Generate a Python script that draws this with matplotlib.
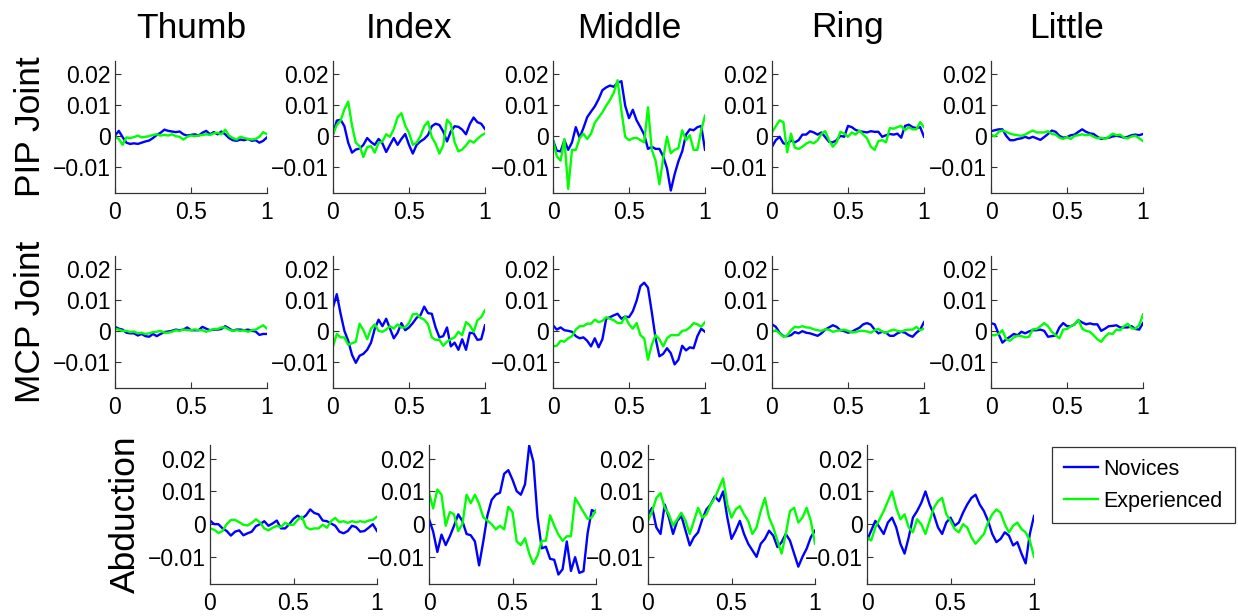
import numpy as np
import matplotlib

matplotlib.use("Agg")
import matplotlib.pyplot as plt

plt.rcParams["font.family"] = ["Liberation Sans", "DejaVu Sans"]

# ============================================================
# DATA  (values in units of 1e-3, sampled at t = 0, 0.025, ..., 1)
# ============================================================

FINGERS = ["Thumb", "Index", "Middle", "Ring", "Little"]
ROW_LABELS = ["PIP Joint", "MCP Joint", "Abduction"]
SERIES_LABELS = ["Novices", "Experienced"]

SCALE = 1e-3
T = np.linspace(0, 1, 41)

X_TICKS = [0, 0.5, 1]
X_TICK_LABELS = ["0", "0.5", "1"]
Y_TICKS = [-0.01, 0, 0.01, 0.02]
Y_TICK_LABELS = ["\u22120.01", "0", "0.01", "0.02"]

# --- PIP joint ---
PIP_THUMB_NOV = [0.2, 1.7, -0.3, -2.1, -2.5, -2.3, -2.5, -2.1, -1.7, -1.4, -0.6, 0.4, 1.1, 2.1, 1.7, 1.5, 1.3, 1.5, 0.6, 0.2, 0.4,
                 0.6, 0.2, 1.1, 1.7, 0.6, 1.3, 0.6, 1.5, 0.6, -0.6, -1.3, -1.5, -1.1, -1.3, -0.9, -1.5, -1.3, -2.1, -1.5, -0.4]
PIP_THUMB_EXP = [-0.3, -0.9, -2.8, -0.4, -0.6, -0.3, 0.2, -0.4, -0.2, 0.0, 0.4, 0.6, 0.2, 0.4, 0.2, 0.6, 0.0, -0.2, -1.1, -0.2, 0.2,
                 0.0, 0.2, 0.4, 0.6, 0.4, 0.9, 1.1, 0.6, 2.1, 0.2, -0.6, -1.1, -0.2, -0.6, -0.9, -1.1, -0.9, -0.2, 1.3, 0.6]
PIP_INDEX_NOV = [0.6, 5.0, 5.3, 3.2, -2.1, -5.3, -4.3, -4.0, -2.8, -0.6, -1.9, -2.8, -0.9, -2.3, -5.1, -2.8, -0.6, -2.8, -0.9, 0.7, -2.8,
                 -5.6, -2.8, -1.7, -0.9, 0.4, 3.2, 4.0, 3.6, 1.5, -1.7, 1.5, 3.2, 3.0, 2.1, 0.6, 3.9, 6.0, 4.5, 4.0, 2.3]
PIP_INDEX_EXP = [0.7, 3.6, 5.0, 8.7, 11.1, 3.4, -2.1, -3.2, -6.7, -3.5, -3.2, -5.3, -2.1, -1.7, 0.6, -0.2, 2.3, 6.1, 7.4, 3.4, 1.1,
                 -2.8, -2.1, 0.0, 3.2, 4.7, -0.3, -2.4, -5.6, -3.0, 5.3, 3.9, -1.9, -4.9, -4.3, -3.0, -1.4, -2.1, -0.9, 0.2, 0.9]
PIP_MIDDLE_NOV = [-1.3, -4.7, -4.9, -1.3, -4.4, -2.0, 2.9, -0.5, 2.6, 6.1, 7.9, 9.6, 11.9, 14.8, 15.7, 16.3, 15.9, 17.2, 17.7, 9.8, 5.8,
                  8.5, 5.1, 2.9, 0.5, -4.1, -3.4, -4.1, -4.1, -6.5, -10.4, -17.5, -12.3, -8.1, -4.9, 0.5, 2.2, 1.9, 2.9, 3.3, -4.4]
PIP_MIDDLE_EXP = [-1.3, -6.5, -7.9, -0.9, -17.0, -4.4, -4.4, -0.7, 0.8, -0.9, 0.8, 4.3, 6.0, 7.7, 9.8, 11.7, 14.0, 18.0, 8.2, -0.2, -1.3,
                  -0.7, -0.5, -1.3, -2.0, 9.3, -4.4, -7.9, -15.5, -7.1, -0.2, -5.5, -4.4, -3.9, 1.9, -1.3, 0.3, -4.4, -4.4, 1.9, 6.6]
PIP_RING_NOV = [-3.4, -1.3, -0.2, -2.3, -2.6, -1.3, -2.0, -1.3, 0.5, 0.5, 1.6, 1.2, 0.5, 1.2, -0.3, -1.8, -2.0, -1.3, 0.1, -0.2, 3.3,
                2.9, 2.0, 1.6, 1.4, 1.2, 1.6, 1.4, 1.4, -0.2, 0.3, 0.7, 0.5, 0.8, -0.5, 3.3, 3.7, 2.9, 2.6, 2.9, -0.2]
PIP_RING_EXP = [1.2, 3.2, 5.1, 4.5, -5.2, 0.8, -3.7, -4.1, -3.4, -2.4, -1.8, -2.3, -1.3, 0.7, 1.6, -1.3, -3.4, -2.0, 1.4, 0.8, -0.2,
                1.2, 0.5, 1.8, 0.5, -0.7, -3.4, -4.4, -1.6, -1.3, -2.0, 2.6, 2.4, 2.9, 3.3, 1.9, 2.9, 2.2, 2.2, 4.5, 2.9]
PIP_LITTLE_NOV = [1.6, 1.9, 2.2, 2.2, 0.1, -1.3, -1.3, -0.9, -0.7, -0.2, -0.7, -0.2, -0.7, -1.2, -0.3, 0.7, 1.8, 1.4, 0.1, -0.5, -0.3,
                  0.3, 0.5, 1.4, 2.2, 1.4, 0.9, 0.7, -0.2, -0.9, -0.7, -0.5, -0.1, 0.1, -0.1, -0.5, -0.2, 0.3, 0.5, 0.3, 0.7]
PIP_LITTLE_EXP = [0.5, -0.1, 1.4, 1.8, 1.4, 0.8, 0.5, 0.3, 0.1, 0.5, 1.2, 1.8, 1.2, 1.2, 1.2, 1.6, 0.7, 0.5, -0.5, -0.9, -0.3,
                  -0.9, 0.1, 0.3, 0.6, 0.3, 0.5, -0.2, -0.7, -0.5, -0.9, -0.2, 0.8, 0.3, 0.5, -0.5, -0.7, -0.1, 0.1, -0.7, -1.6]

# --- MCP joint ---
MCP_THUMB_NOV = [1.4, 0.8, 0.5, -0.5, -0.7, -0.7, -1.4, -0.9, -1.6, -1.8, -0.9, -1.6, -0.9, -0.3, -0.1, 0.1, 0.5, 0.3, 0.5, 1.2, 0.3,
                 0.3, 0.3, 1.4, 0.8, 0.3, 0.5, 0.5, 0.7, 1.6, 0.9, 0.1, 0.5, 0.5, 0.3, 0.5, 0.1, -0.1, -1.2, -0.9, -0.9]
MCP_THUMB_EXP = [0.8, 0.5, 0.1, 0.1, -0.3, -0.1, -0.7, -0.5, -0.9, -0.7, -0.3, -0.2, 0.1, -0.5, -0.5, -0.2, 0.3, 0.1, 0.5, 0.3, 0.3,
                 0.6, 0.3, 0.3, -0.2, 0.3, 0.7, 0.7, 1.2, 1.2, 0.5, 0.1, 0.3, 0.1, 0.3, -0.2, 0.3, 0.5, 1.2, 1.9, 0.8]
MCP_INDEX_NOV = [7.7, 11.9, 5.6, 0.1, -3.1, -7.6, -10.2, -7.9, -7.3, -6.0, -3.7, 0.8, 3.7, 1.6, 4.0, 0.8, -2.3, -0.5, 2.6, 0.3, 1.2,
                 2.6, 4.3, 5.1, 7.9, 5.8, 5.6, 1.2, -2.0, -1.6, 1.2, -4.9, -3.7, -6.0, -2.6, -6.0, -0.5, -0.7, -2.8, -2.6, 1.9]
MCP_INDEX_EXP = [-4.9, -0.9, -2.0, -2.0, -4.4, -3.9, -3.4, 2.4, 0.3, -2.6, 0.8, 2.2, 0.1, -0.2, 0.5, 1.6, 0.8, 2.2, 1.2, 1.2, 2.6,
                 5.4, 5.6, 4.3, 3.7, 2.2, -2.0, -2.8, -2.8, -4.7, -3.4, -2.6, -2.0, -0.2, -1.3, 2.9, 1.9, -0.2, 3.5, 4.5, 6.8]
MCP_MIDDLE_NOV = [1.9, 0.5, 1.2, 0.3, 0.1, -0.2, -1.6, -2.3, -2.0, -3.1, -4.9, -2.3, -5.2, -2.6, 4.0, 4.5, 5.1, 5.6, 4.0, 4.7, 4.5,
                  6.4, 9.8, 14.5, 15.6, 14.0, 6.1, -2.3, -8.1, -7.3, -5.5, -7.1, -10.7, -9.2, -4.7, -6.2, -5.2, -5.5, -1.6, 0.8, -0.2]
MCP_MIDDLE_EXP = [-4.9, -4.7, -3.1, -3.4, -2.3, -1.6, 0.5, 1.6, 1.6, 2.4, 2.4, 3.7, 2.9, 3.3, 4.5, 4.0, 3.5, 2.6, 2.6, 4.7, 2.2,
                  0.8, 2.6, -1.3, -2.3, -9.2, -4.4, -1.3, -2.6, -4.9, -2.3, -1.3, -1.3, -1.3, 0.1, 0.3, 1.2, 2.6, 2.2, 1.4, 2.9]
MCP_RING_NOV = [2.2, 1.4, -0.5, -1.6, -1.6, -1.3, -0.3, -0.7, 0.0, -0.5, -0.7, -1.1, -1.5, -0.7, 0.5, 1.2, 1.9, 1.4, 0.3, 0.0, -0.5,
                -0.2, 0.5, 1.1, 2.2, 2.6, 2.1, 0.5, -0.7, -0.2, -0.5, -1.5, -1.5, -0.7, -0.2, -0.5, -1.3, -1.8, -0.5, 0.5, 2.9]
MCP_RING_EXP = [-0.2, 0.3, -0.7, -1.8, -1.4, 0.3, 1.4, 1.2, 1.6, 1.2, 1.1, 0.6, 0.3, 0.1, 0.6, 0.5, -0.2, 0.1, 0.3, 0.5, 0.1,
                -0.4, -0.3, 0.1, 0.1, -0.1, -0.5, 0.3, 0.7, -0.1, -0.5, 0.1, 0.5, 0.1, -0.2, 0.3, 0.5, 0.5, 1.4, 0.3, 0.8]
MCP_LITTLE_NOV = [2.6, 2.2, -0.9, -3.7, -2.6, -1.8, -0.9, -1.3, -0.2, -0.7, -0.1, 0.3, 0.3, 0.5, 0.1, -1.8, -1.6, -1.4, 1.2, 2.6, 1.6,
                  1.6, 2.2, 3.5, 2.8, 2.2, 2.5, 2.2, 2.2, 0.1, 0.8, 1.6, 1.7, 1.9, 1.2, 1.2, 1.2, 1.6, 0.7, 0.5, 2.6]
MCP_LITTLE_EXP = [-1.3, -1.3, -0.9, 0.3, -2.6, -3.1, -2.0, -1.5, -1.6, -2.0, -1.8, 0.6, 0.7, 1.6, 2.6, 1.6, -0.2, -1.3, -2.3, 0.5, 0.7,
                  1.6, 2.2, 3.7, 0.8, 0.1, -0.2, -1.3, -2.6, -3.4, -1.8, -0.7, -0.9, 0.5, 0.3, 1.6, 2.4, 0.9, 0.8, 1.9, 5.4]

# --- Abduction (no little finger) ---
ABD_THUMB_NOV = [1.1, 0.0, 0.0, -1.3, -2.1, -3.5, -2.3, -1.9, -3.4, -2.8, -2.3, -0.6, 0.0, 0.9, -0.5, 0.2, 1.1, -1.3, -1.3, 0.0, 1.6,
                 2.6, 1.7, 2.7, 4.5, 3.4, 3.0, 1.1, 0.9, 0.2, -0.5, -2.3, -2.8, -2.1, -0.5, -0.9, -2.3, -2.1, -1.1, 0.0, -2.1]
ABD_THUMB_EXP = [-1.3, -1.7, -2.7, -2.1, 0.0, 1.3, 1.3, 0.6, -0.2, -0.4, 0.4, 1.5, 0.5, -1.3, -1.9, -1.1, -0.5, -0.9, 0.4, -0.2, -0.2,
                 1.3, 2.3, -0.9, -1.6, -1.3, -1.3, -0.2, -1.1, 0.9, 1.9, 0.6, 0.9, 0.4, 0.9, 0.6, 0.9, 0.6, 1.1, 1.3, 2.3]
ABD_INDEX_NOV = [1.6, -2.3, -8.5, -3.2, -6.4, -3.7, -0.5, 3.0, 0.9, -3.0, -3.4, -5.3, -12.6, -5.3, 2.7, 7.4, 9.0, 9.6, 15.4, 16.5, 13.6,
                 10.1, 9.0, 12.2, 24.0, 19.1, 2.1, -7.4, -6.9, -10.6, -10.9, -15.4, -13.8, -5.3, -14.3, -10.1, -14.9, -14.4, -2.7, 4.3, 3.7]
ABD_INDEX_EXP = [9.6, 4.8, 10.6, 9.0, -0.5, 3.7, 3.0, -2.1, 0.0, 9.0, 6.4, 9.0, 6.2, 2.1, 1.1, 0.0, -1.6, -0.5, -1.6, 5.3, 3.7,
                 -5.3, -6.4, -4.3, -9.0, -12.2, -9.6, -5.1, -5.1, 2.7, -0.5, -3.2, -5.1, -3.7, -3.7, 8.0, 5.9, 3.7, 1.6, 2.1, 4.3]
ABD_MIDDLE_NOV = [3.0, 5.0, -1.0, -3.0, 6.0, 2.0, -3.0, 1.0, 2.5, -2.0, -6.5, -4.0, -2.5, 1.5, 4.5, 6.0, 8.5, 7.0, 10.0, 2.0, -4.5,
                  -2.0, 1.0, -3.0, -6.0, -8.0, -10.0, -6.0, -4.5, -2.0, -3.5, -7.0, -5.5, -3.0, -5.0, -9.0, -13.0, -10.0, -7.5, -4.0, -2.0]
ABD_MIDDLE_EXP = [1.0, 4.0, 8.0, 9.5, 5.0, 3.0, -0.5, 1.5, 3.5, 1.0, -3.0, 1.0, 5.0, 2.0, 3.0, 6.0, 8.0, 11.0, 14.0, 6.0, 2.0,
                  4.5, 5.5, 3.0, 1.0, -3.0, -1.0, 4.0, 8.0, 2.0, -1.0, -5.0, -9.0, -3.0, 4.0, 5.0, 0.5, 2.0, 5.0, 1.0, -6.0]
ABD_RING_NOV = [-5.0, -2.0, 1.0, -1.0, -3.0, 0.5, 2.0, -1.0, -6.0, -9.0, -4.0, 2.0, 4.0, 6.5, 10.0, 6.0, 3.0, -1.0, -3.0, 0.5, 2.0,
                -0.5, 0.5, 3.5, 6.0, 8.0, 9.0, 6.0, 4.0, 1.0, -3.0, -5.5, -4.5, -2.5, -3.5, -6.5, -5.5, -9.0, -12.0, -3.0, 2.5]
ABD_RING_EXP = [-4.0, -5.0, -1.0, 1.5, 4.0, 7.0, 10.0, 5.0, 1.5, 3.0, -1.0, -2.5, 1.5, 0.0, -3.0, 1.0, 5.0, 7.0, 8.0, 3.0, 1.0,
                -1.5, -2.5, 0.0, -1.0, -4.0, -6.0, -4.5, -3.0, 0.5, 3.0, 4.5, 3.5, 0.0, -2.5, -0.5, 0.5, -1.5, -2.5, -5.0, -10.0]

ROWS = [
    [(PIP_THUMB_NOV, PIP_THUMB_EXP), (PIP_INDEX_NOV, PIP_INDEX_EXP), (PIP_MIDDLE_NOV, PIP_MIDDLE_EXP),
     (PIP_RING_NOV, PIP_RING_EXP), (PIP_LITTLE_NOV, PIP_LITTLE_EXP)],
    [(MCP_THUMB_NOV, MCP_THUMB_EXP), (MCP_INDEX_NOV, MCP_INDEX_EXP), (MCP_MIDDLE_NOV, MCP_MIDDLE_EXP),
     (MCP_RING_NOV, MCP_RING_EXP), (MCP_LITTLE_NOV, MCP_LITTLE_EXP)],
    [(ABD_THUMB_NOV, ABD_THUMB_EXP), (ABD_INDEX_NOV, ABD_INDEX_EXP), (ABD_MIDDLE_NOV, ABD_MIDDLE_EXP),
     (ABD_RING_NOV, ABD_RING_EXP)],
]

# ============================================================
# LAYOUT (pixels of a 1238 x 616 canvas)
# ============================================================

W, H = 1238, 616
ROW_LEFTS = [[115, 333, 553, 772, 991], [115, 333, 553, 772, 991], [210, 429, 648, 867]]
ROW_WIDTHS = [152, 152, 167]
ROW_TOP_BOTTOM = [(61, 193), (256, 388), (445, 584)]
YLIM = (-0.0183, 0.0242)

COLORS = ["#0000ff", "#00ff00"]
LINE_WIDTH = 1.7


def style_axis(axis):
    for side in ("top", "right"):
        axis.spines[side].set_visible(False)
    for side in ("left", "bottom"):
        axis.spines[side].set_color("0.2")
        axis.spines[side].set_linewidth(0.9)
    axis.set_xlim(0, 1)
    axis.set_ylim(*YLIM)
    axis.set_xticks(X_TICKS)
    axis.set_xticklabels(X_TICK_LABELS)
    axis.set_yticks(Y_TICKS)
    axis.set_yticklabels(Y_TICK_LABELS)
    axis.tick_params(axis="both", direction="in", length=4, width=0.8, color="0.2", labelsize=16.5)
    axis.tick_params(axis="x", pad=6)
    axis.tick_params(axis="y", pad=3)


def main():
    figure = plt.figure(figsize=(W / 100, H / 100), dpi=100)

    handles = []
    for row_index, row in enumerate(ROWS):
        top, bottom = ROW_TOP_BOTTOM[row_index]
        width = ROW_WIDTHS[row_index]
        for col_index, (novices, experienced) in enumerate(row):
            left = ROW_LEFTS[row_index][col_index]
            axis = figure.add_axes([left / W, 1 - bottom / H, width / W, (bottom - top) / H])
            lines = []
            for values, color, label in zip((novices, experienced), COLORS, SERIES_LABELS):
                line, = axis.plot(T, np.array(values) * SCALE, color=color, linewidth=LINE_WIDTH, label=label)
                lines.append(line)
            style_axis(axis)
            if not handles:
                handles = lines

    # column titles
    for col_index, name in enumerate(FINGERS):
        center = ROW_LEFTS[0][col_index] + ROW_WIDTHS[0] / 2
        figure.text(center / W, 1 - 28 / H, name, ha="center", va="center", fontsize=25.5)

    # row labels
    row_label_pos = [(30, 127), (30, 322), (125, 514)]
    for label, (x, y) in zip(ROW_LABELS, row_label_pos):
        figure.text(x / W, 1 - y / H, label, rotation=90, ha="center", va="center", fontsize=25.5)

    legend = figure.legend(
        handles, SERIES_LABELS,
        loc="upper left",
        bbox_to_anchor=(1052 / W, 1 - 447 / H),
        fontsize=15.5,
        frameon=True,
        fancybox=False,
        handlelength=1.6,
        handletextpad=0.25,
        borderpad=0.55,
        labelspacing=0.5,
        borderaxespad=0,
    )
    legend.get_frame().set_edgecolor("black")
    legend.get_frame().set_linewidth(0.9)

    figure.savefig("out.png", dpi=100)


if __name__ == "__main__":
    main()
